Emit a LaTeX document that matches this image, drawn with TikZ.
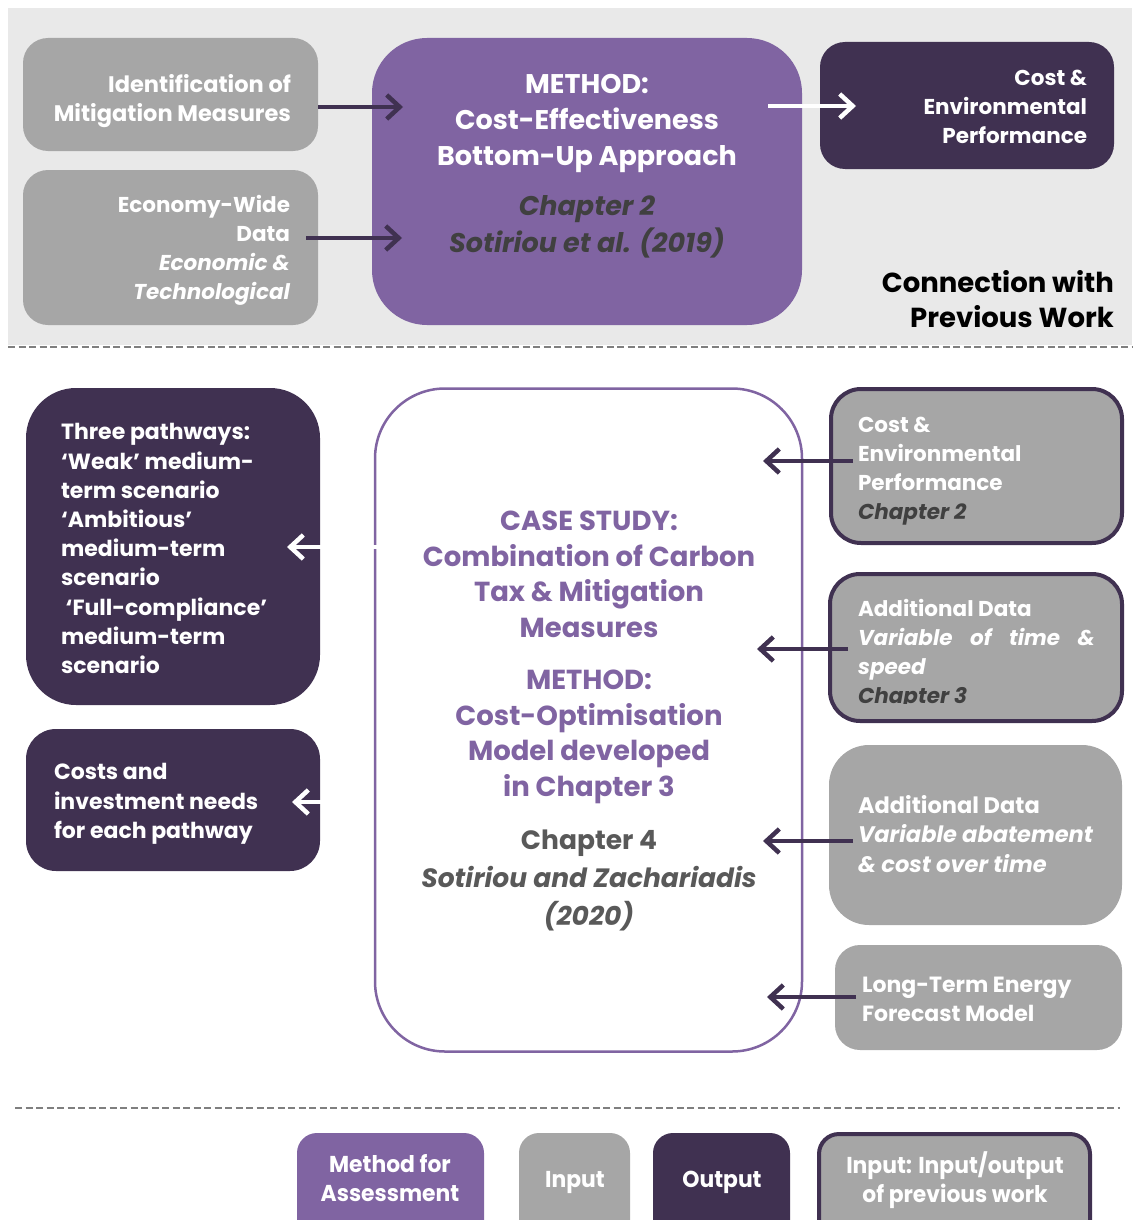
\documentclass[tikz,border=0pt]{standalone}
\usepackage{fontspec}
\setmainfont{Poppins}
\usepackage{graphicx}
\usetikzlibrary{arrows.meta}

\definecolor{cgrey}{HTML}{A6A6A6}
\definecolor{cpurple}{HTML}{8064A2}
\definecolor{cdark}{HTML}{403151}
\definecolor{cbg}{HTML}{E9E9E9}
\definecolor{cdash}{HTML}{7F7F7F}
\definecolor{cchap}{HTML}{404040}
\definecolor{cref}{HTML}{595959}

% strut fixing the height of the first line of every text block
\newcommand{\hs}{\rule{0pt}{0.9em}}
% narrow lettering of the key
\newcommand{\keytext}[1]{\scalebox{0.95}[1]{#1}}

\begin{document}
\begin{tikzpicture}[x=1pt,y=-1pt,
  shell/.style={inner sep=0pt, outer sep=0pt, anchor=north west},
  inbox/.style={shell, fill=cgrey, rounded corners=#1},
  outbox/.style={shell, fill=cdark, rounded corners=#1},
  methbox/.style={shell, fill=cpurple, rounded corners=#1},
  prevbox/.style={shell, fill=cgrey, draw=cdark, line width=4pt, rounded corners=#1},
  sepline/.style={draw=cdash, line width=2pt, dash pattern=on 7pt off 3.5pt},
  label/.style={inner sep=0pt, outer sep=0pt, text=white,
    font=\fontsize{21.5}{29}\selectfont\bfseries},
  darr/.style={draw=cdark, line width=4.5pt,
    -{Straight Barb[length=13pt,width=24pt]}},
  warr/.style={draw=white, line width=4.5pt,
    -{Straight Barb[length=13pt,width=24pt]}},
]
\useasboundingbox (0,0) rectangle (1132,1220);

% ---------------- connection with previous work ----------------
\node[shell, fill=cbg, minimum width=1124pt, minimum height=337pt] (prev) at (8,8) {};

\node[inbox=25pt, minimum width=295pt, minimum height=113pt] (idm) at (23,38) {};
\node[label, anchor=north east, align=right,
  font=\fontsize{22.5}{29}\selectfont\bfseries] (idmt) at (291,72)
  {\hs Identification of\\Mitigation Measures};

\node[inbox=25pt, minimum width=295pt, minimum height=155pt] (econ) at (23,170) {};
\node[label, anchor=north east, align=right] (econt) at (290,193)
  {\hs Economy-Wide\\Data\\\itshape Economic \&\\\itshape Technological};

\node[methbox=55pt, minimum width=430pt, minimum height=287pt] (meth) at (372,38) {};
\node[inner sep=0pt, anchor=north, align=center, text=white,
  font=\fontsize{27}{36}\selectfont\bfseries] (metht) at (587,69)
  {\hs METHOD:\\Cost-Effectiveness\\Bottom-Up Approach};
\node[inner sep=0pt, anchor=north, align=center, text=cchap,
  font=\fontsize{27}{37}\selectfont\bfseries\itshape] (methr) at (587,191)
  {\hs Chapter 2\\Sotiriou et al. (2019)};

\node[outbox=25pt, minimum width=294pt, minimum height=127pt] (perf) at (820,42) {};
\node[label, anchor=north east, align=right] (perft) at (1087,66)
  {\hs Cost \&\\Environmental\\Performance};

\node[inner sep=0pt, anchor=north east, align=right, text=black,
  font=\fontsize{27.5}{35}\selectfont\bfseries] (conn) at (1114,268)
  {\hs Connection with\\Previous Work};

\coordinate (t1) at (403,107);
\coordinate (t2) at (402,238);
\coordinate (t3) at (856,106);
\draw[darr] (idm.east |- t1) -- (t1);
\draw[darr] ([xshift=-12pt]econ.east |- t2) -- (t2);
\draw[warr] ([xshift=-34pt]meth.east |- t3) -- (t3);

\draw[sepline] (prev.south west) ++(0,2) -- ++(1124,0) coordinate (sepA);

% ---------------- case study ----------------
\node[outbox=50pt, minimum width=294pt, minimum height=317pt] (path) at (26,388) {};
\node[label, anchor=north west, align=left,
  font=\fontsize{22}{29.2}\selectfont\bfseries] (patht) at (61,420)
  {\hs Three pathways:\\‘Weak’ medium-\\term scenario\\‘Ambitious’\\medium-term\\scenario\\\ ‘Full-compliance’\\medium-term\\scenario};

\node[outbox=30pt, minimum width=294pt, minimum height=142pt] (cost) at (26,729) {};
\node[label, anchor=north west, align=left,
  font=\fontsize{22}{29.5}\selectfont\bfseries] (costt) at (54,760)
  {\hs Costs and\\investment needs\\for each pathway};

\node[draw=cpurple, line width=2.5pt, fill=white, rounded corners=70pt,
  inner sep=0pt, minimum width=427pt, minimum height=663pt] (cs) at (588.5,720) {};
\node[inner sep=0pt, anchor=north, align=center, text=cpurple,
  font=\fontsize{27.5}{35.5}\selectfont\bfseries] (cst) at (589,506)
  {\hs CASE STUDY:\\Combination of Carbon\\Tax \& Mitigation\\Measures};
\node[inner sep=0pt, anchor=north, align=center, text=cpurple,
  font=\fontsize{27.5}{35.5}\selectfont\bfseries] (csm) at (589,665)
  {\hs METHOD:\\Cost-Optimisation\\Model developed\\in Chapter 3};
\node[inner sep=0pt, anchor=north, align=center, text=cref,
  font=\fontsize{26.5}{38}\selectfont\bfseries] (csr) at (589,825)
  {\hs Chapter 4\\\itshape Sotiriou and Zachariadis\\\itshape (2020)};

\node[prevbox=30pt, minimum width=291pt, minimum height=154pt] (r1) at (831,389) {};
\node[label, anchor=north west, align=left] (r1t) at (858,413)
  {\hs Cost \&\\Environmental\\Performance\\\color{cchap}\itshape Chapter 2};

\node[prevbox=30pt, minimum width=292pt, minimum height=147pt] (r2) at (830,574) {};
\begin{scope}
  \clip (830,574) rectangle (1124,703);
  \node[label, anchor=north west, align=left] (r2t) at (858,597)
    {\hs Additional Data\\\makebox[237pt][s]{\itshape Variable of time \&}\\\itshape speed\\\color{cchap}\itshape Chapter 3};
\end{scope}

\node[inbox=40pt, minimum width=293pt, minimum height=180pt] (r3) at (829,745) {};
\node[label, anchor=north west, align=left,
  font=\fontsize{22.5}{29.5}\selectfont\bfseries] (r3t) at (858,793)
  {\hs Additional Data\\\itshape Variable abatement\\\itshape \& cost over time};

\node[inbox=25pt, minimum width=287pt, minimum height=105pt] (r4) at (835,945) {};
\node[label, anchor=north west, align=left,
  font=\fontsize{22}{29}\selectfont\bfseries] (r4t) at (862,973)
  {\hs Long-Term Energy\\Forecast Model};

\coordinate (a1) at (763,461);
\coordinate (a2) at (757,649);
\coordinate (a3) at (763,841);
\coordinate (a4) at (767,997);
\draw[darr] ([xshift=22pt]r1.west |- a1) -- (a1);
\draw[darr] ([xshift=18pt]r2.west |- a2) -- (a2);
\draw[darr] ([xshift=24pt]r3.west |- a3) -- (a3);
\draw[darr] ([xshift=21pt]r4.west |- a4) -- (a4);

\coordinate (o1) at (287,547);
\coordinate (o2) at (292,802);
\draw[warr] ([xshift=5pt]cs.west |- o1) -- (o1);
\draw[warr] ([xshift=-40pt]cs.west |- o2) -- (o2);

% ---------------- legend ----------------
\draw[sepline] (15,1108) -- (1120,1108);

\node[methbox=20pt, minimum width=187pt, minimum height=110pt] (lm) at (297,1133) {};
\node[inbox=20pt, minimum width=111pt, minimum height=110pt] (li) at (519,1133) {};
\node[outbox=20pt, minimum width=137pt, minimum height=110pt] (lo) at (653,1133) {};
\node[prevbox=20pt, minimum width=271pt, minimum height=110pt] (lp) at (819,1134) {};

\node[label, anchor=north, align=center,
  font=\fontsize{23}{29}\selectfont\bfseries] (lmt) at (390,1152)
  {\hs\keytext{Method for}\\\keytext{Assessment}};
\node[label, anchor=north, align=center,
  font=\fontsize{23}{29}\selectfont\bfseries] (lit) at (575,1167)
  {\hs\keytext{Input}};
\node[label, anchor=north, align=center,
  font=\fontsize{23}{29}\selectfont\bfseries] (lot) at (722,1167)
  {\hs\keytext{Output}};
\node[label, anchor=north, align=center,
  font=\fontsize{23}{29}\selectfont\bfseries] (lpt) at (955,1152)
  {\hs\keytext{Input: Input/output}\\\keytext{of previous work}};
\end{tikzpicture}
\end{document}
